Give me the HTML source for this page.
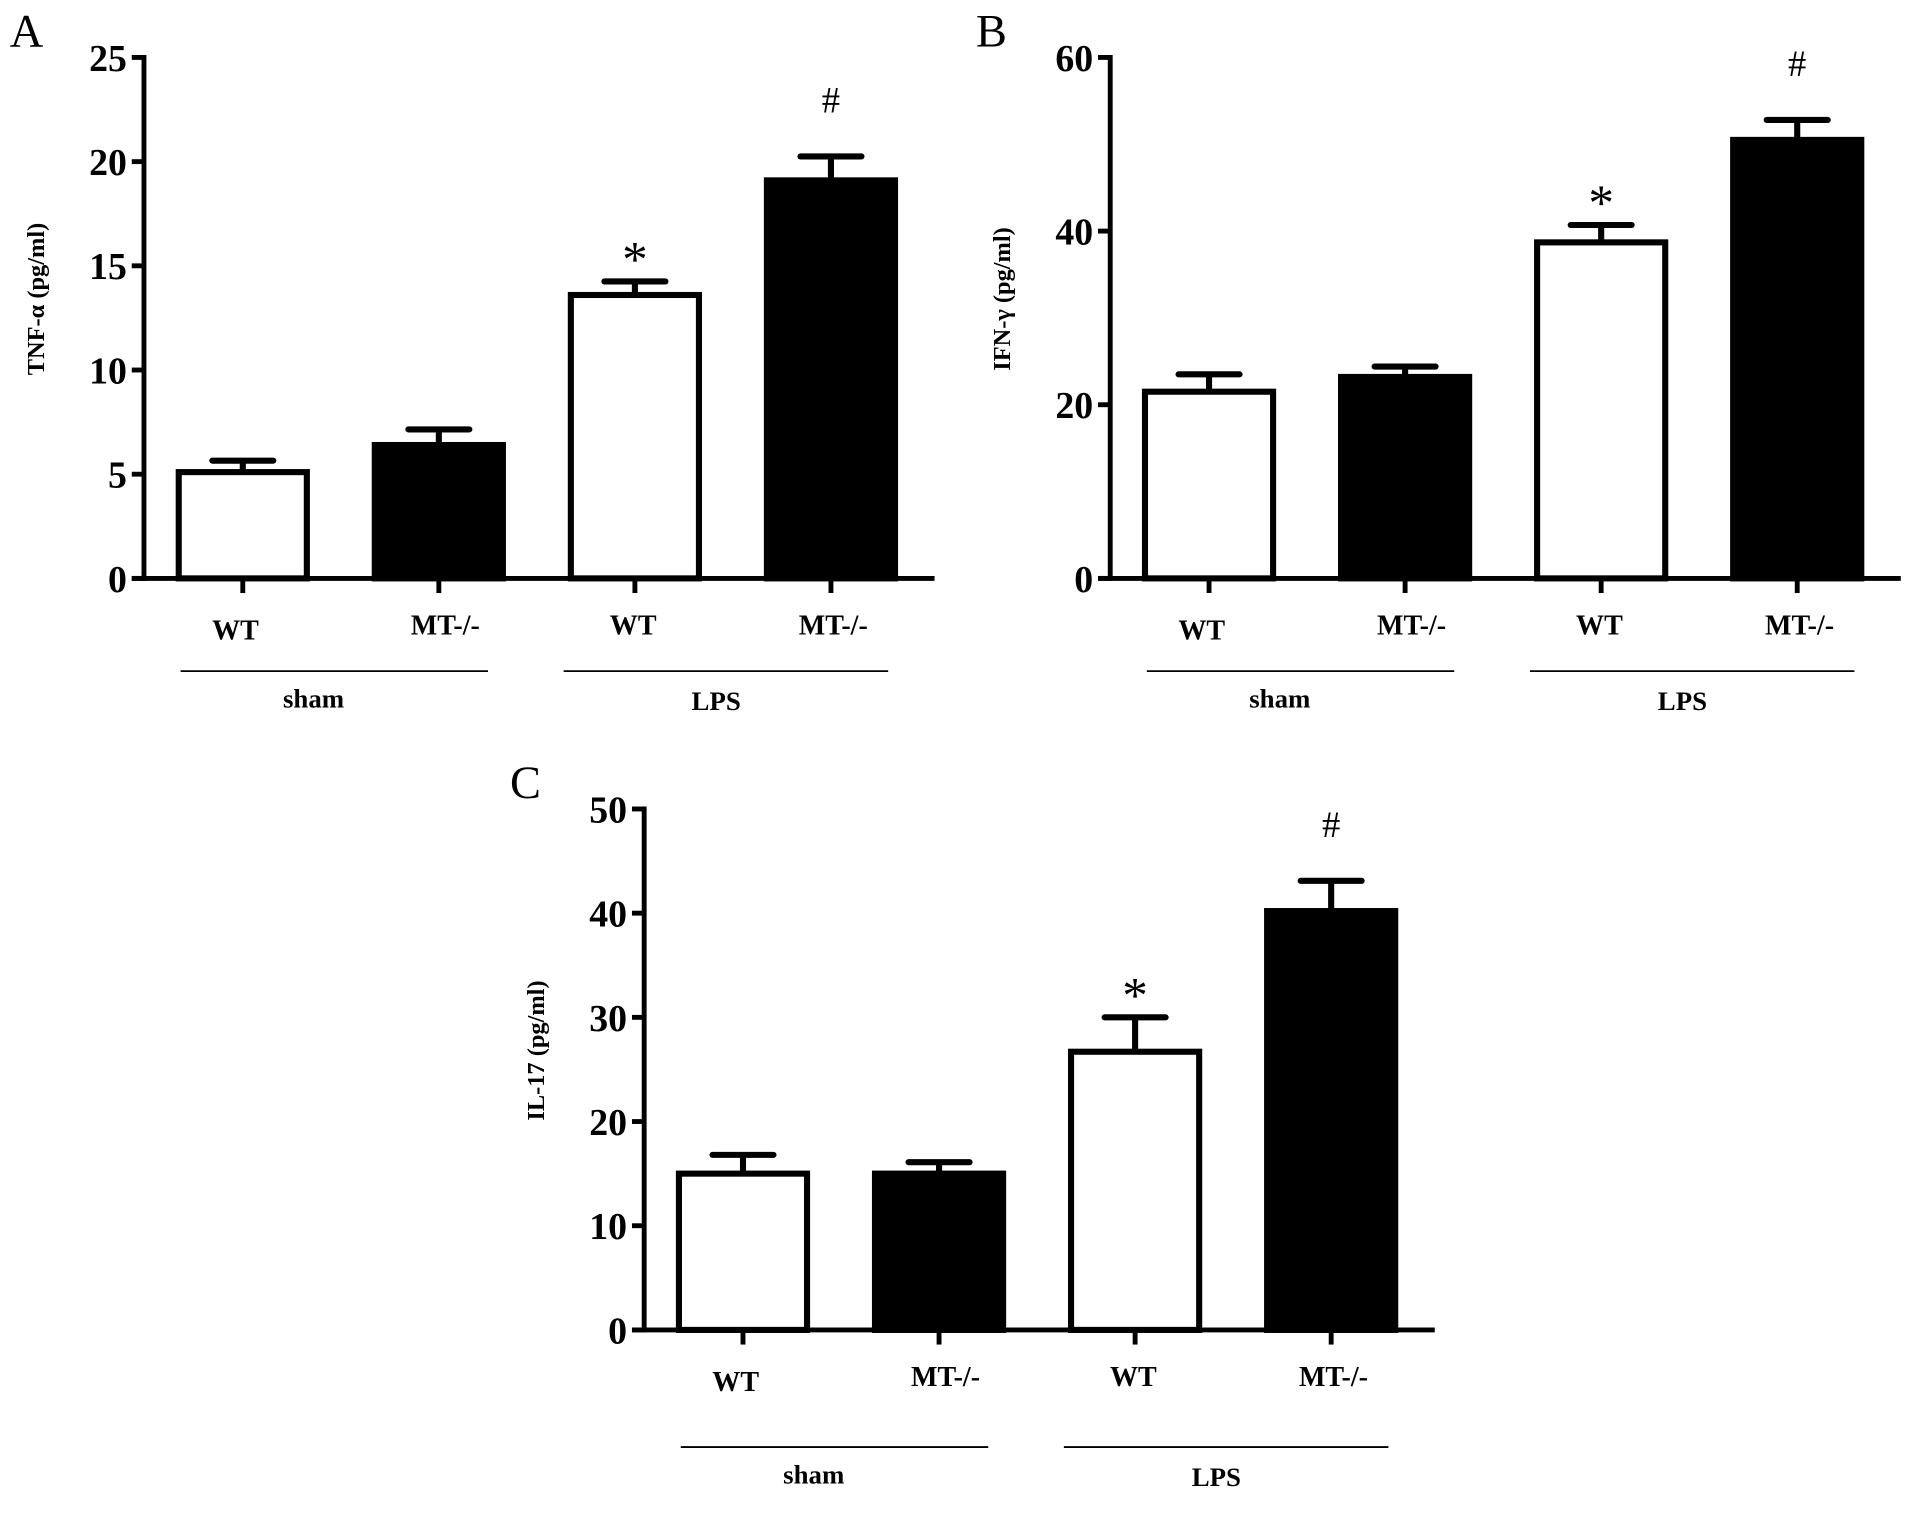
<!DOCTYPE html>
<html><head><meta charset="utf-8"><style>
html,body{margin:0;padding:0;background:#fff;}
svg{display:block;}
text{font-family:"Liberation Serif","DejaVu Serif",serif;fill:#000;}
</style></head><body>
<svg id="fig" width="1913" height="1524" viewBox="0 0 1568 1249" xmlns="http://www.w3.org/2000/svg"></svg>
<script>
const categories = ["WT","MT-/-","WT","MT-/-"];
const groups = ["sham","LPS"];
const tnfValues = [5.1, 6.4, 13.6, 19.1];
const tnfErrors = [0.55, 0.75, 0.65, 1.15];
const tnfTicks = [0,5,10,15,20,25];
const ifnValues = [21.5, 23.2, 38.7, 50.5];
const ifnErrors = [2.0, 1.2, 2.0, 2.3];
const ifnTicks = [0,20,40,60];
const il17Values = [15.0, 15.0, 26.7, 40.2];
const il17Errors = [1.8, 1.1, 3.3, 2.9];
const il17Ticks = [0,10,20,30,40,50];
const marks = ["","","*","#"];

const NS="http://www.w3.org/2000/svg";
const svg=document.getElementById('fig');
function mk(tag,attrs,parent){const e=document.createElementNS(NS,tag);for(const k in attrs)e.setAttribute(k,attrs[k]);(parent||svg).appendChild(e);return e;}

function panel(key,letter,title,values,errors,ticks,dx,dy,gOff){
  const g=mk('g',{transform:`translate(${dx},${dy})`});
  
  
  const ymax=ticks[ticks.length-1];
  const y0=474, y1=47, ax=118, axEnd=766;
  const yS=v=>y0-(y0-y1)*v/ymax;
  const xC=i=>199+i*160.7;
  const bw=110;
  const L=mk('text',{x:8,y:38,'font-size':38},g);L.textContent=letter;
  
  
  const labX=[193,365,519,683];
  values.forEach((v,i)=>{
    const top=yS(v), etop=yS(v+errors[i]);
    const el=mk('line',{x1:xC(i),x2:xC(i),y1:top,y2:etop,stroke:'#000','stroke-width':5},g);
    
    
    const cap=mk('line',{x1:xC(i)-25,x2:xC(i)+25,y1:etop,y2:etop,stroke:'#000','stroke-width':5,'stroke-linecap':'round'},g);
    
    
    const r=mk('rect',{x:xC(i)-bw/2+2.5,y:top,width:bw-5,height:y0-top,fill:i%2?'#000':'#fff',stroke:'#000','stroke-width':5},g);
    
    
    if(marks[i]){
      const star=marks[i]=='*';
      const m=mk('text',{x:xC(i),y:star?yS(v+errors[i])-4:yS(v+errors[i])-36,'text-anchor':'middle','font-size':star?42:30},g);
      m.textContent=marks[i];
      
      
    }
    const tk=mk('line',{x1:xC(i),x2:xC(i),y1:y0,y2:y0+12,stroke:'#000','stroke-width':4},g);
    
    
    const cl=mk('text',{x:labX[i],y:i==0?524:520,'text-anchor':'middle','font-size':23,'font-weight':'bold'},g);
    cl.textContent=categories[i];
    
    
  });
  const ya=mk('line',{x1:ax,x2:ax,y1:y1-2,y2:y0+2,stroke:'#000','stroke-width':4},g);
  
  
  const xa=mk('line',{x1:ax-10,x2:axEnd,y1:y0,y2:y0,stroke:'#000','stroke-width':4},g);
  
  
  ticks.forEach(t=>{
    const l=mk('line',{x1:ax-10,x2:ax,y1:yS(t),y2:yS(t),stroke:'#000','stroke-width':4},g);
    
    
    const tx=mk('text',{x:ax-14,y:yS(t)+11,'text-anchor':'end','font-size':31,'font-weight':'bold'},g);
    tx.textContent=t;
    
    
  });
  const yt=mk('text',{x:0,y:0,transform:`translate(36,245) rotate(-90)`,'text-anchor':'middle','font-size':20,'font-weight':'bold'},g);
  yt.textContent=title;
  
  
  [[148,400],[462,728]].forEach((s,k)=>{
    const gl=mk('line',{x1:s[0],x2:s[1],y1:550+gOff,y2:550+gOff,stroke:'#000','stroke-width':1.5},g);
    
    
    const gt=mk('text',{x:k?587:257,y:(k?582:580)+gOff,'text-anchor':'middle','font-size':22,'font-weight':'bold'},g);
    gt.textContent=groups[k];
    
    
  });
}
panel('a','A','TNF-α (pg/ml)',tnfValues,tnfErrors,tnfTicks,0,0,0);
panel('b','B','IFN-γ (pg/ml)',ifnValues,ifnErrors,ifnTicks,792,0,0);
panel('c','C','IL-17 (pg/ml)',il17Values,il17Errors,il17Ticks,410,616,20);
</script>
</body></html>
